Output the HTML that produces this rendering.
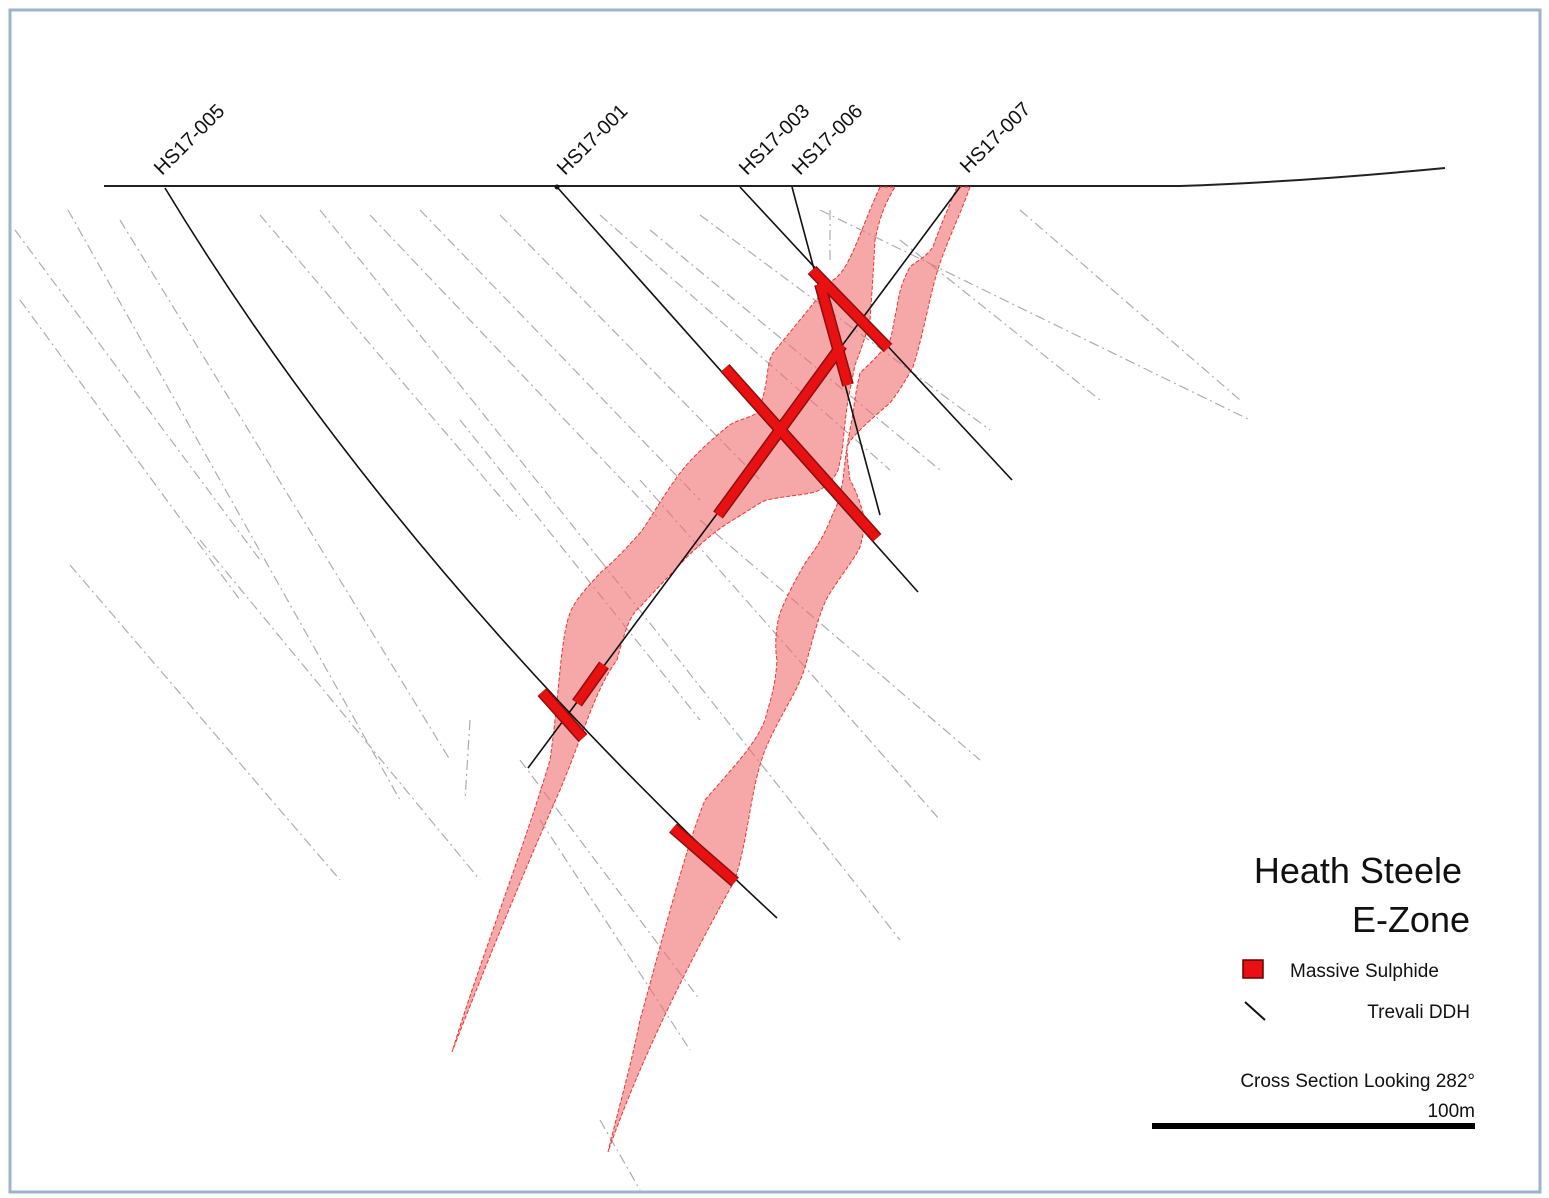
<!DOCTYPE html>
<html><head><meta charset="utf-8"><style>
html,body{margin:0;padding:0;background:#fff}
svg{display:block}
text{font-family:"Liberation Sans",sans-serif;fill:#111}
</style></head><body>
<svg width="1549" height="1198" viewBox="0 0 1549 1198" xmlns="http://www.w3.org/2000/svg">
<rect x="0" y="0" width="1549" height="1198" fill="#fff"/>
<rect x="10" y="10" width="1530" height="1182" fill="none" stroke="#9db3cf" stroke-width="3"/>
<g stroke="#999" stroke-width="1.2" stroke-dasharray="10,4,2,4" fill="none" opacity="0.8">
<line x1="15" y1="230" x2="260" y2="560"/>
<line x1="20" y1="300" x2="240" y2="600"/>
<line x1="68" y1="210" x2="400" y2="800"/>
<line x1="120" y1="220" x2="450" y2="760"/>
<line x1="70" y1="565" x2="340" y2="880"/>
<line x1="200" y1="540" x2="480" y2="880"/>
<line x1="260" y1="215" x2="520" y2="520"/>
<line x1="320" y1="210" x2="600" y2="560"/>
<line x1="370" y1="215" x2="660" y2="520"/>
<line x1="420" y1="210" x2="700" y2="500"/>
<line x1="460" y1="420" x2="700" y2="720"/>
<line x1="500" y1="215" x2="760" y2="480"/>
<line x1="600" y1="215" x2="890" y2="470"/>
<line x1="650" y1="230" x2="940" y2="470"/>
<line x1="700" y1="215" x2="990" y2="430"/>
<line x1="820" y1="210" x2="1250" y2="420"/>
<line x1="1020" y1="210" x2="1240" y2="400"/>
<line x1="900" y1="240" x2="1100" y2="400"/>
<line x1="600" y1="560" x2="900" y2="940"/>
<line x1="640" y1="480" x2="940" y2="820"/>
<line x1="700" y1="520" x2="980" y2="760"/>
<line x1="520" y1="760" x2="700" y2="1000"/>
<line x1="540" y1="820" x2="690" y2="1050"/>
<line x1="600" y1="1120" x2="640" y2="1190"/>
<line x1="830" y1="210" x2="830" y2="260"/>
<line x1="470" y1="720" x2="465" y2="800"/>
</g>
<path d="M104,186 L1180,186 Q1300,182 1445,168" stroke="#222" stroke-width="2" fill="none"/>
<g fill="rgba(240,110,110,0.6)" stroke="#e33" stroke-width="1" stroke-dasharray="4,2">
<path d="M880,187 C860,230 850,270 833,280 C820,295 800,320 773,353 C765,365 770,385 757,413 C745,420 735,420 727,427 C705,445 690,460 680,473 C660,500 650,520 640,533 C620,555 610,565 600,573 C585,590 575,600 570,613 C560,640 560,690 550,760 C520,860 480,960 452,1052 C480,980 520,880 560,790 C585,730 595,690 617,660 C625,630 630,615 640,607 C660,585 675,570 687,557 C710,535 720,528 733,520 C750,510 760,502 767,500 C790,495 810,495 820,490 C835,480 838,470 838,470 C843,450 843,443 843,443 C845,420 848,400 848,400 C852,380 855,365 855,365 C865,340 870,320 870,320 C873,280 875,240 875,240 C880,215 887,200 895,187 Z"/>
<path d="M957,187 C945,215 935,240 933,247 C925,258 915,262 910,267 C900,285 898,300 897,307 C893,325 892,335 890,340 C880,355 868,365 860,373 C856,390 854,405 853,413 C850,430 848,440 847,447 C845,460 844,470 843,480 C840,495 838,505 833,513 C825,535 815,550 807,560 C795,580 785,600 780,613 C775,630 775,650 777,660 C775,690 770,700 765,720 C755,745 735,765 705,800 C685,850 665,930 640,1020 C630,1070 618,1110 608,1152 C640,1060 690,960 735,880 C750,830 750,790 765,750 C782,710 800,690 807,660 C815,630 822,605 830,593 C845,570 855,558 860,547 C865,530 865,520 863,513 C858,495 853,485 850,480 C848,465 847,455 847,447 C850,440 855,435 860,430 C870,420 882,410 890,403 C900,390 907,378 913,367 C920,345 924,325 927,313 C932,290 936,275 940,263 C950,235 962,210 970,187 Z"/>
</g>
<g stroke="#111" stroke-width="1.6" fill="none">
<path d="M165,188 Q390,560 777,918"/>
<line x1="557" y1="187" x2="918" y2="592"/>
<line x1="740" y1="187" x2="1012" y2="480"/>
<line x1="792" y1="187" x2="880" y2="515"/>
<line x1="960" y1="187" x2="528" y2="768"/>
</g>
<circle cx="557" cy="187" r="2.5" fill="#111"/>
<g stroke="#8a1010" stroke-width="12" stroke-linecap="butt">
<line x1="725" y1="368" x2="877" y2="538"/>
<line x1="842" y1="345" x2="718" y2="515"/>
<line x1="812" y1="270" x2="888" y2="348"/>
<line x1="820" y1="284" x2="848" y2="385"/>
<line x1="542" y1="692" x2="583" y2="738"/>
<line x1="673" y1="828" x2="735" y2="882"/>
<line x1="577" y1="703" x2="604" y2="665"/>
</g>
<g stroke="#e81010" stroke-width="9" stroke-linecap="butt">
<line x1="725" y1="368" x2="877" y2="538"/>
<line x1="842" y1="345" x2="718" y2="515"/>
<line x1="812" y1="270" x2="888" y2="348"/>
<line x1="820" y1="284" x2="848" y2="385"/>
<line x1="542" y1="692" x2="583" y2="738"/>
<line x1="673" y1="828" x2="735" y2="882"/>
<line x1="577" y1="703" x2="604" y2="665"/>
</g>
<g font-size="20">
<text transform="translate(162,176) rotate(-45)">HS17-005</text>
<text transform="translate(565,176) rotate(-45)">HS17-001</text>
<text transform="translate(747,176) rotate(-45)">HS17-003</text>
<text transform="translate(800,176) rotate(-45)">HS17-006</text>
<text transform="translate(968,174) rotate(-45)">HS17-007</text>
</g>
<text x="1462" y="883" font-size="36" text-anchor="end">Heath Steele</text>
<text x="1470" y="932" font-size="36" text-anchor="end">E-Zone</text>
<rect x="1243" y="960" width="20" height="18" fill="#e81010" stroke="#600" stroke-width="1.5"/>
<text x="1290" y="977" font-size="19">Massive Sulphide</text>
<line x1="1245" y1="1002" x2="1265" y2="1020" stroke="#111" stroke-width="2"/>
<text x="1470" y="1018" font-size="19" text-anchor="end">Trevali DDH</text>
<text x="1475" y="1087" font-size="19" text-anchor="end">Cross Section Looking 282°</text>
<text x="1475" y="1117" font-size="19" text-anchor="end">100m</text>
<rect x="1152" y="1123" width="323" height="6" fill="#000"/>
</svg>
</body></html>
